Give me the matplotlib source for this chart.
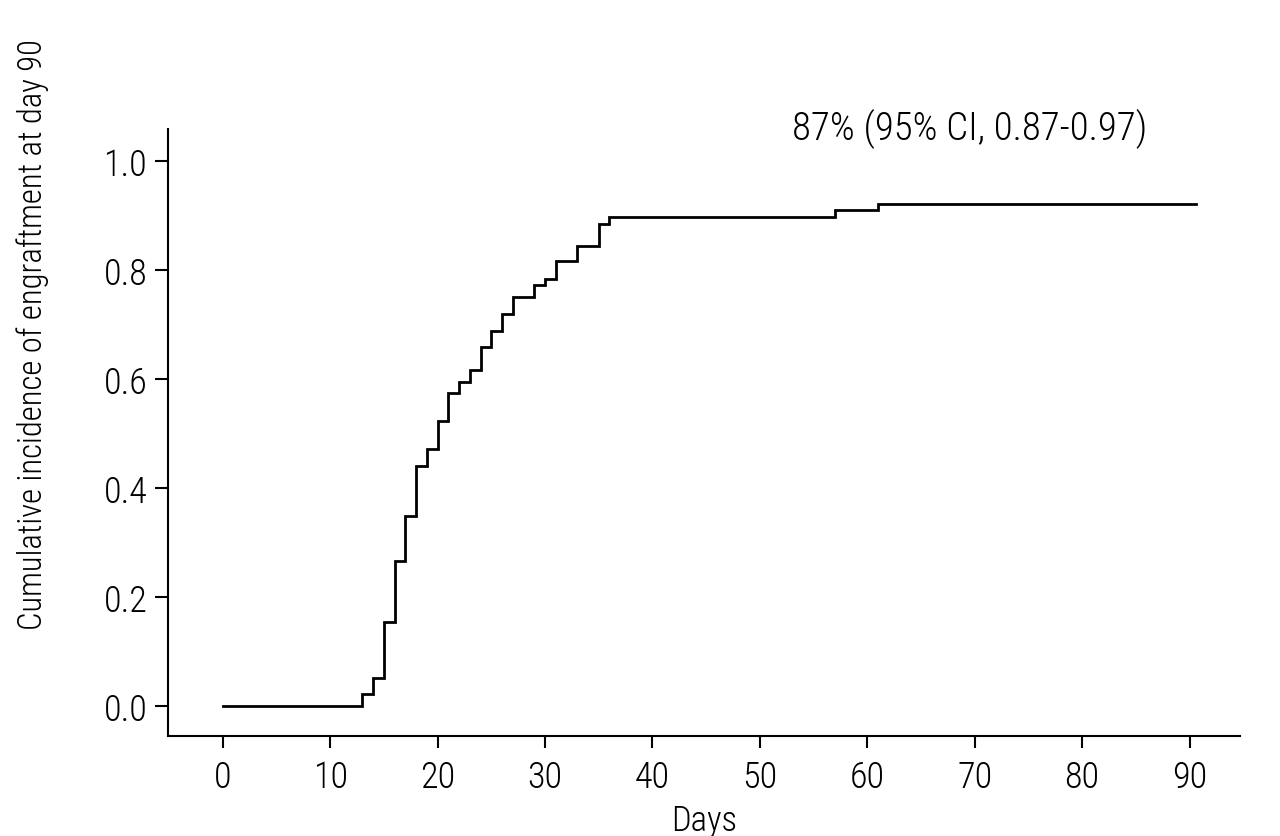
import matplotlib
matplotlib.use("Agg")
import matplotlib.pyplot as plt
from matplotlib import font_manager

# Data (step function, cumulative incidence)
event_days = [0, 13, 14, 15, 16, 17, 18, 19, 20, 21, 22, 23, 24, 25, 26, 27,
              29, 30, 31, 33, 35, 36, 57, 61]
cum_incidence = [0.0, 0.022, 0.051, 0.154, 0.266, 0.349, 0.440, 0.472, 0.523,
                 0.575, 0.595, 0.617, 0.659, 0.688, 0.719, 0.750, 0.772, 0.783,
                 0.817, 0.844, 0.884, 0.897, 0.910, 0.922]
last_followup = 90.6
x_ticks = [0, 10, 20, 30, 40, 50, 60, 70, 80, 90]
y_ticks = [0.0, 0.2, 0.4, 0.6, 0.8, 1.0]
y_tick_labels = ["0.0", "0.2", "0.4", "0.6", "0.8", "1.0"]
annotation = "87% (95% CI, 0.87-0.97)"
x_label = "Days"
y_label = "Cumulative incidence of engraftment at day 90"

# Prefer a condensed face if one is installed
available = {f.name for f in font_manager.fontManager.ttflist}
narrow = None
for cand in ['Liberation Sans Narrow', 'Roboto Condensed', 'Open Sans Condensed',
             'DejaVu Sans Condensed', 'Noto Sans Condensed']:
    if cand in available:
        narrow = cand
        break

if narrow:
    plt.rcParams['font.family'] = [narrow, 'Liberation Sans', 'DejaVu Sans']
    tick_fs, ann_fs, xl_fs, yl_fs = 26, 28, 25, 23.5
else:
    plt.rcParams['font.family'] = ['Liberation Sans', 'DejaVu Sans']
    tick_fs, ann_fs, xl_fs, yl_fs = 23, 23, 24, 20
plt.rcParams['font.weight'] = 'light'
plt.rcParams['axes.labelweight'] = 'light'

W, H = 1280, 837
fig = plt.figure(figsize=(W / 100, H / 100), dpi=100)
ax = fig.add_axes([168 / W, 1 - 737 / H, (1240 - 168) / W, (737 - 130) / H])

xs = list(event_days) + [last_followup]
ys = list(cum_incidence) + [cum_incidence[-1]]
ax.step(xs, ys, where='post', color='black', lw=2.0, solid_joinstyle='miter')

ax.set_xlim(-5.1, 94.7)
ax.set_ylim(-0.055, 1.059)
ax.set_xticks(x_ticks)
ax.set_yticks(y_ticks)
ax.set_yticklabels(y_tick_labels)

for s in ['top', 'right']:
    ax.spines[s].set_visible(False)
for s in ['left', 'bottom']:
    ax.spines[s].set_linewidth(1.5)

ax.tick_params(axis='both', direction='out', width=1.5, labelsize=tick_fs, color='black')
ax.tick_params(axis='y', length=9.4, pad=5.5)
ax.tick_params(axis='x', length=8.6, pad=8)

ax.set_xlabel(x_label, fontsize=xl_fs, labelpad=6, fontweight='light')
fig.text(33 / W, 1 - 335 / H, y_label, rotation=90, fontsize=yl_fs,
         ha='center', va='center', fontweight='light')
fig.text(970 / W, 1 - 140 / H, annotation, fontsize=ann_fs, ha='center',
         va='baseline', fontweight='light')

fig.savefig("out.png", dpi=100)
